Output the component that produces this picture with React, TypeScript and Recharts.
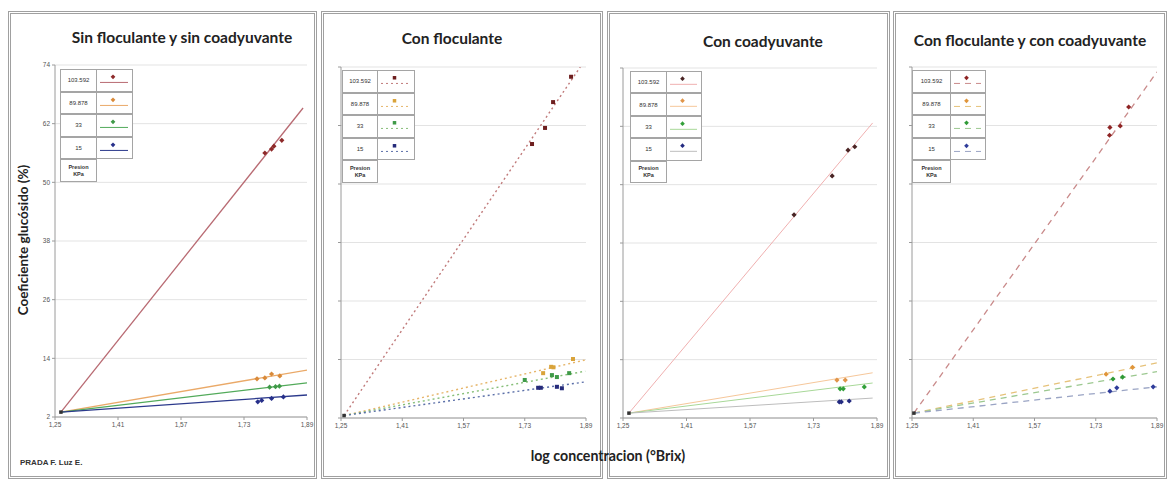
import React from 'react';
import { ScatterChart, Scatter, XAxis, YAxis, CartesianGrid } from 'recharts';

const xTicks = [1.25, 1.41, 1.57, 1.73, 1.89];
const yTicks = [2, 14, 26, 38, 50, 62, 74];
const pressureLabels = ['103.592', '89.878', '33', '15'];
const panelTitles = [
  'Sin floculante y sin coadyuvante',
  'Con floculante',
  'Con coadyuvante',
  'Con floculante y con coadyuvante',
];

// Panel 1: Sin floculante y sin coadyuvante
const p1Origin = [{ x: 1.265, y: 3 }];
const p1Red = [{ x: 1.783, y: 56.0 }, { x: 1.8, y: 56.8 }, { x: 1.806, y: 57.4 }, { x: 1.826, y: 58.6 }];
const p1Orange = [{ x: 1.763, y: 9.8 }, { x: 1.783, y: 10.0 }, { x: 1.8, y: 10.8 }, { x: 1.821, y: 10.4 }];
const p1Green = [{ x: 1.795, y: 8.1 }, { x: 1.81, y: 8.2 }, { x: 1.82, y: 8.3 }];
const p1Blue = [{ x: 1.765, y: 5.1 }, { x: 1.775, y: 5.4 }, { x: 1.8, y: 5.8 }, { x: 1.83, y: 6.1 }];
const p1TrendEnd = [
  { x: 1.88, y: 65.2 },
  { x: 1.89, y: 11.6 },
  { x: 1.89, y: 9.0 },
  { x: 1.89, y: 6.5 },
];

// Panel 2: Con floculante
const p2Origin = [{ x: 1.258, y: 2.5 }];
const p2Red = [{ x: 1.749, y: 58.2 }, { x: 1.783, y: 61.5 }, { x: 1.804, y: 66.8 }, { x: 1.851, y: 72.0 }];
const p2Orange = [{ x: 1.778, y: 11.2 }, { x: 1.799, y: 12.5 }, { x: 1.805, y: 12.4 }, { x: 1.856, y: 14.1 }];
const p2Green = [{ x: 1.73, y: 9.8 }, { x: 1.801, y: 10.8 }, { x: 1.814, y: 10.4 }, { x: 1.846, y: 11.2 }];
const p2Blue = [{ x: 1.765, y: 8.2 }, { x: 1.772, y: 8.2 }, { x: 1.814, y: 8.4 }, { x: 1.827, y: 8.1 }];
const p2TrendEnd = [
  { x: 1.875, y: 74 },
  { x: 1.888, y: 13.9 },
  { x: 1.888, y: 11.6 },
  { x: 1.888, y: 9.4 },
];

// Panel 3: Con coadyuvante
const p3Origin = [{ x: 1.265, y: 3 }];
const p3Red = [{ x: 1.681, y: 43.8 }, { x: 1.777, y: 51.8 }, { x: 1.817, y: 57.1 }, { x: 1.834, y: 57.8 }];
const p3Orange = [{ x: 1.789, y: 9.8 }, { x: 1.81, y: 9.8 }];
const p3Green = [{ x: 1.797, y: 8.0 }, { x: 1.805, y: 8.0 }, { x: 1.858, y: 8.4 }];
const p3Blue = [{ x: 1.795, y: 5.3 }, { x: 1.8, y: 5.3 }, { x: 1.82, y: 5.5 }];
const p3TrendEnd = [
  { x: 1.879, y: 62.7 },
  { x: 1.879, y: 11.3 },
  { x: 1.879, y: 9.2 },
  { x: 1.879, y: 6.1 },
];

// Panel 4: Con floculante y con coadyuvante
const p4Origin = [{ x: 1.255, y: 3 }];
const p4Red = [{ x: 1.766, y: 60.0 }, { x: 1.767, y: 61.6 }, { x: 1.794, y: 61.9 }, { x: 1.816, y: 65.8 }];
const p4Orange = [{ x: 1.757, y: 11.0 }, { x: 1.826, y: 12.4 }];
const p4Green = [{ x: 1.775, y: 10.0 }, { x: 1.8, y: 10.4 }];
const p4Blue = [{ x: 1.767, y: 7.5 }, { x: 1.785, y: 8.2 }, { x: 1.88, y: 8.4 }];
const p4TrendEnd = [
  { x: 1.89, y: 73 },
  { x: 1.89, y: 13.3 },
  { x: 1.89, y: 11.5 },
  { x: 1.89, y: 8.4 },
];

type PanelCfg = {
  box: [number, number, number, number];
  plot: [number, number, number, number];
  title: string;
  titleX: number;
  titleY: number;
  origin: { x: number; y: number }[];
  series: { x: number; y: number }[][];
  trendEnd: { x: number; y: number }[];
  markerColors: string[];
  lineColors: string[];
  dash?: string;
  lineWidth: number;
  showYLabels: boolean;
  legend: [number, number, number, number, number];
  markerShape: 'diamond' | 'square' | 'circle';
};

const panels: PanelCfg[] = [
  {
    box: [8, 11, 309, 468],
    plot: [55, 65, 307, 417],
    title: panelTitles[0],
    titleX: 182,
    titleY: 37,
    origin: p1Origin,
    series: [p1Red, p1Orange, p1Green, p1Blue],
    trendEnd: p1TrendEnd,
    markerColors: ['#8e2a2a', '#d98a3a', '#3f9a48', '#27308a'],
    lineColors: ['#b86a72', '#eaa968', '#52aa5a', '#2c3a8c'],
    lineWidth: 1.3,
    showYLabels: true,
    legend: [60, 69, 97, 133, 182],
    markerShape: 'diamond',
  },
  {
    box: [321, 11, 282, 468],
    plot: [341, 67, 586, 418],
    title: panelTitles[1],
    titleX: 452,
    titleY: 38,
    origin: p2Origin,
    series: [p2Red, p2Orange, p2Green, p2Blue],
    trendEnd: p2TrendEnd,
    markerColors: ['#6e1e1e', '#d9a33a', '#3f9a48', '#252a7a'],
    lineColors: ['#c07a7a', '#e6b56a', '#86be78', '#5b6fa8'],
    dash: '2 3',
    lineWidth: 1.4,
    showYLabels: false,
    legend: [342, 70, 378, 415, 183],
    markerShape: 'square',
  },
  {
    box: [607, 11, 283, 468],
    plot: [623, 68, 877, 418],
    title: panelTitles[2],
    titleX: 763,
    titleY: 41,
    origin: p3Origin,
    series: [p3Red, p3Orange, p3Green, p3Blue],
    trendEnd: p3TrendEnd,
    markerColors: ['#4a2424', '#e0954a', '#33a03a', '#232a80'],
    lineColors: ['#f0b0b0', '#f6c79a', '#a8d898', '#bdbdbd'],
    lineWidth: 1,
    showYLabels: false,
    legend: [630, 71, 667, 702, 183],
    markerShape: 'diamond',
  },
  {
    box: [893, 11, 274, 468],
    plot: [912, 67, 1157, 418],
    title: panelTitles[3],
    titleX: 1030,
    titleY: 40,
    origin: p4Origin,
    series: [p4Red, p4Orange, p4Green, p4Blue],
    trendEnd: p4TrendEnd,
    markerColors: ['#8e2424', '#e0953a', '#2f9a36', '#2f3c9a'],
    lineColors: ['#c98a8a', '#e6c27a', '#9cc890', '#9aa4c4'],
    dash: '6 5',
    lineWidth: 1.3,
    showYLabels: false,
    legend: [912, 70, 951, 986, 183],
    markerShape: 'diamond',
  },
];

const makeShape = (kind: string, color: string, size: number) => (props: any) => {
  const { cx, cy } = props;
  if (cx == null || cy == null) return <g />;
  if (kind === 'square') {
    return <rect x={cx - size / 2} y={cy - size / 2} width={size} height={size} fill={color} />;
  }
  if (kind === 'circle') {
    return <circle cx={cx} cy={cy} r={size / 2} fill={color} />;
  }
  const h = size / 2 + 0.6;
  return (
    <path d={`M${cx},${cy - h} L${cx + h},${cy} L${cx},${cy + h} L${cx - h},${cy} Z`} fill={color} />
  );
};

const noShape = () => <g />;

const fmt = (v: number) => v.toFixed(2).replace('.', ',');

const Y_AXIS_W = 30;

const PanelChart = ({ cfg }: { cfg: PanelCfg }) => {
  const [pl, pt, pr, pb] = cfg.plot;
  const chartLeft = pl - 50;
  const chartTop = pt - 10;
  const width = pr - chartLeft + 10;
  const height = pb - chartTop + 30;
  const trends = cfg.series.map((_, i) => [cfg.origin[0], cfg.trendEnd[i]]);
  return (
    <div style={{ position: 'absolute', left: chartLeft, top: chartTop }}>
      <ScatterChart width={width} height={height} margin={{ top: 10, right: 10, left: 20, bottom: 0 }}>
        <CartesianGrid vertical={false} stroke="#e3e3e3" />
        <XAxis
          type="number"
          dataKey="x"
          domain={[1.25, 1.89]}
          ticks={xTicks}
          tickFormatter={fmt}
          allowDataOverflow
          height={30}
          stroke="#9a9a9a"
          tickSize={3}
          tick={{ fontSize: 6.5, fill: '#555', fontFamily: 'Liberation Sans' }}
        />
        <YAxis
          type="number"
          dataKey="y"
          domain={[2, 74]}
          ticks={yTicks}
          allowDataOverflow
          width={Y_AXIS_W}
          stroke="#9a9a9a"
          tickSize={3}
          tickFormatter={(v: number) => (cfg.showYLabels ? String(v) : '')}
          tick={{ fontSize: 6.5, fill: '#555', fontFamily: 'Liberation Sans' }}
        />
        {trends.map((d, i) => (
          <Scatter
            key={'t' + i}
            data={d}
            line={{ stroke: cfg.lineColors[i], strokeWidth: cfg.lineWidth, strokeDasharray: cfg.dash }}
            lineType="joint"
            shape={noShape}
            isAnimationActive={false}
          />
        ))}
        {cfg.series.map((d, i) => (
          <Scatter
            key={'s' + i}
            data={d}
            shape={makeShape(cfg.markerShape, cfg.markerColors[i], 4)}
            isAnimationActive={false}
          />
        ))}
        <Scatter data={cfg.origin} shape={makeShape('square', '#333', 3.5)} isAnimationActive={false} />
      </ScatterChart>
    </div>
  );
};

const LegendTable = ({ cfg }: { cfg: PanelCfg }) => {
  const [x0, y0, xs, x1, y1] = cfg.legend;
  const rowH = (y1 - y0) / 5;
  const c1 = xs - x0;
  const c2 = x1 - xs;
  const border = '1.5px solid #a5a5a5';
  return (
    <div style={{ position: 'absolute', left: x0, top: y0, width: x1 - x0, height: y1 - y0 }}>
      {pressureLabels.map((lab, i) => (
        <React.Fragment key={lab}>
          <div
            style={{
              position: 'absolute',
              left: 0,
              top: i * rowH,
              width: c1,
              height: rowH,
              border,
              boxSizing: 'border-box',
              fontSize: 6,
              fontFamily: 'Liberation Sans',
              color: '#333',
              display: 'flex',
              alignItems: 'center',
              justifyContent: 'center',
              background: '#fff',
            }}
          >
            {lab}
          </div>
          <div
            style={{
              position: 'absolute',
              left: c1,
              top: i * rowH,
              width: c2,
              height: rowH,
              border,
              borderLeft: 'none',
              boxSizing: 'border-box',
              background: '#fff',
            }}
          >
            <svg width={c2} height={rowH} style={{ position: 'absolute', left: 0, top: 0 }}>
              <line
                x1={3}
                x2={c2 - 5}
                y1={rowH * 0.55}
                y2={rowH * 0.55}
                stroke={cfg.lineColors[i]}
                strokeWidth={1}
                strokeDasharray={cfg.dash}
              />
              {makeShape(cfg.markerShape, cfg.markerColors[i], 3.5)({ cx: c2 / 2 - 2, cy: rowH * 0.3 })}
            </svg>
          </div>
        </React.Fragment>
      ))}
      <div
        style={{
          position: 'absolute',
          left: 0,
          top: 4 * rowH,
          width: c1,
          height: rowH,
          border,
          boxSizing: 'border-box',
          fontSize: 5.5,
          fontWeight: 'bold',
          fontFamily: 'Liberation Sans',
          color: '#333',
          display: 'flex',
          flexDirection: 'column',
          alignItems: 'center',
          justifyContent: 'center',
          lineHeight: '7px',
          background: '#fff',
        }}
      >
        <span>Presion</span>
        <span>KPa</span>
      </div>
    </div>
  );
};

export default function App() {
  return (
    <div
      style={{
        position: 'absolute',
        left: 0,
        top: 0,
        width: 1174,
        height: 481,
        background: '#fff',
        overflow: 'hidden',
        fontFamily: 'Lato',
      }}
    >
      {panels.map((p, i) => (
        <div
          key={'b' + i}
          style={{
            position: 'absolute',
            left: p.box[0],
            top: p.box[1],
            width: p.box[2],
            height: p.box[3],
            border: '3px double #a0a0a0',
            boxSizing: 'border-box',
          }}
        />
      ))}
      {panels.map((p, i) => (
        <PanelChart key={'c' + i} cfg={p} />
      ))}
      {panels.map((p, i) => (
        <LegendTable key={'l' + i} cfg={p} />
      ))}
      {panels.map((p, i) => (
        <div
          key={'t' + i}
          style={{
            position: 'absolute',
            left: p.titleX,
            top: p.titleY,
            transform: 'translate(-50%, -50%)',
            whiteSpace: 'nowrap',
            fontFamily: 'Lato',
            fontWeight: 'bold',
            fontSize: 15.5,
            color: '#222',
          }}
        >
          {p.title}
        </div>
      ))}
      <div
        style={{
          position: 'absolute',
          left: 23,
          top: 240,
          transform: 'translate(-50%, -50%) rotate(-90deg)',
          whiteSpace: 'nowrap',
          fontFamily: 'Lato',
          fontWeight: 'bold',
          fontSize: 13.5,
          color: '#222',
        }}
      >
        Coeficiente glucósido (%)
      </div>
      <div
        style={{
          position: 'absolute',
          left: 608,
          top: 455,
          transform: 'translate(-50%, -50%)',
          whiteSpace: 'nowrap',
          fontFamily: 'Lato',
          fontWeight: 'bold',
          fontSize: 14.2,
          color: '#222',
        }}
      >
        log concentracion (°Brix)
      </div>
      <div
        style={{
          position: 'absolute',
          left: 20,
          top: 458,
          whiteSpace: 'nowrap',
          fontFamily: 'Liberation Sans',
          fontWeight: 'bold',
          fontSize: 8,
          color: '#333',
        }}
      >
        PRADA F. Luz E.
      </div>
    </div>
  );
}
